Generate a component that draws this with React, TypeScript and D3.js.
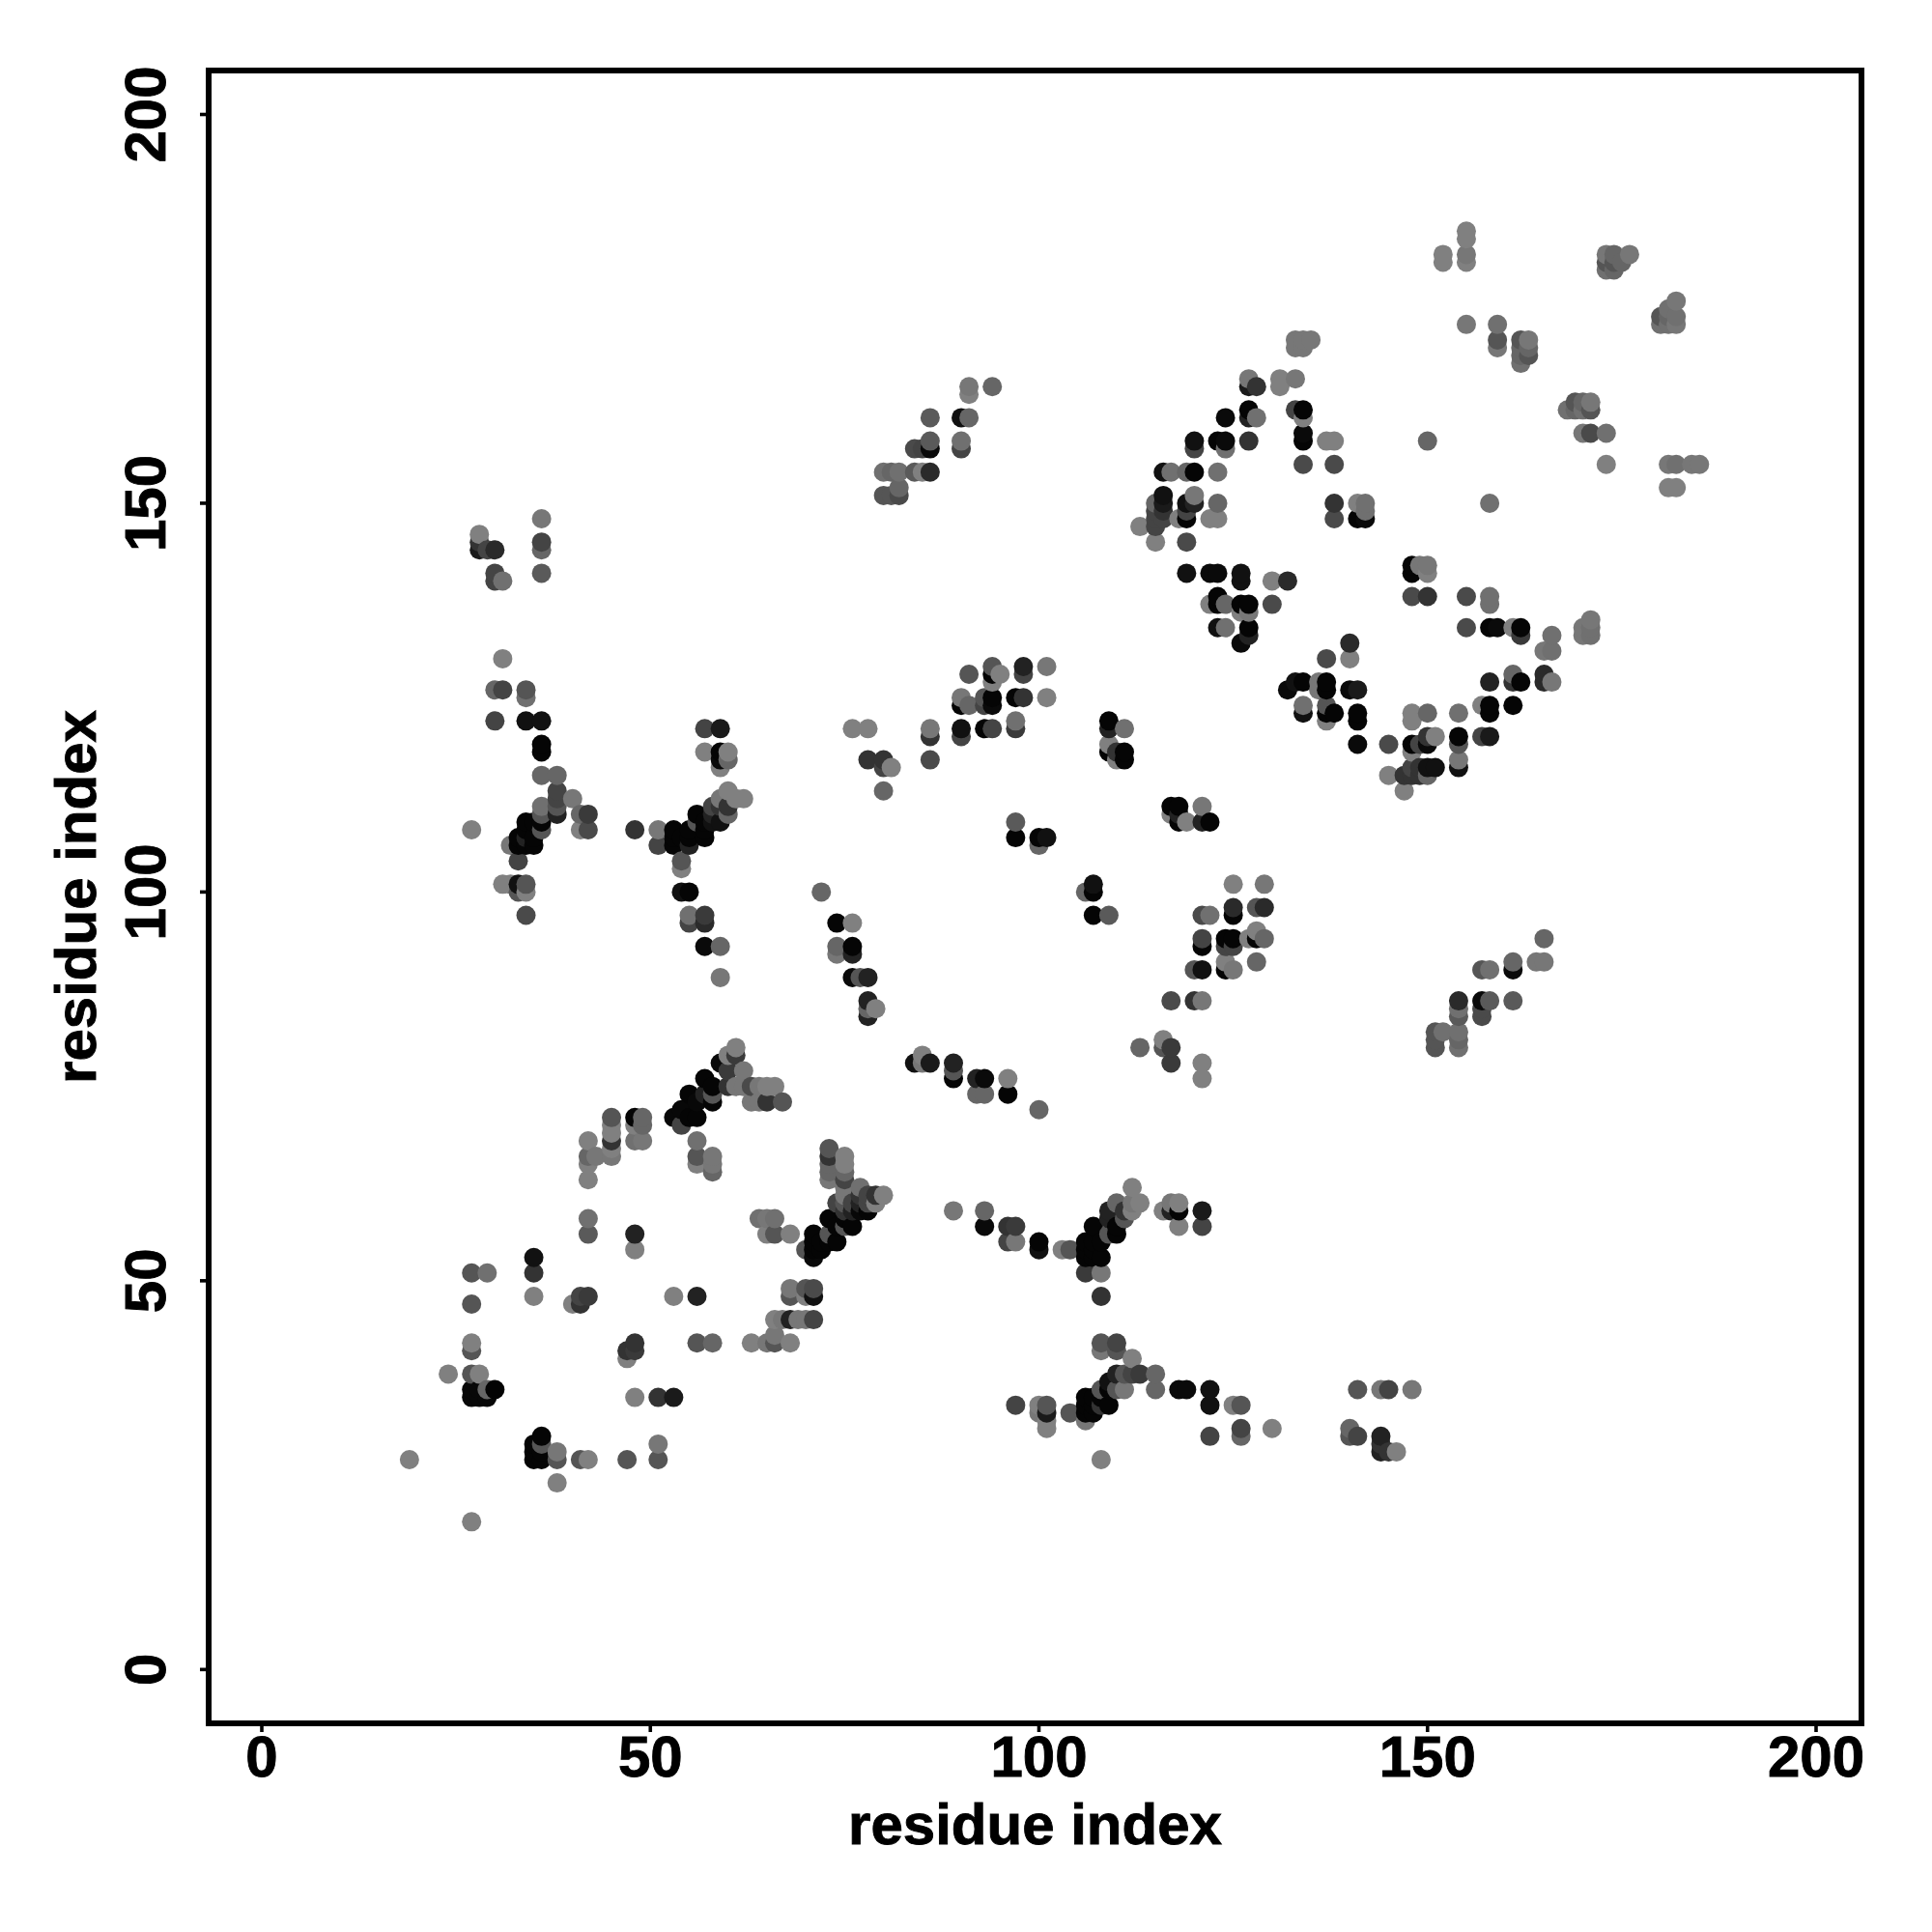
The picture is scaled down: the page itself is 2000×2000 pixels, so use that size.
import React from "react";
import * as d3 from "d3";

// Each contact: [residue i, residue j, grey level of the dot]
type C = [number, number, number];

const xTickValues = [0, 50, 100, 150, 200];
const yTickValues = [0, 50, 100, 150, 200];
const axisTitle = "residue index";

const lowerLeft: C[] = [
  [19,27,128],[24,38,128],[27,19,128],[27,51,85],[29,51,112],[27,47,85],[27,42,128],[27,41,85],[27,38,85],[28,38,128],
  [27,36,8],[27,35,8],[28,36,8],[28,35,8],[29,36,102],[29,35,8],[30,36,3],
  [35,53,17],[35,51,51],[35,48,128],[36,30,5],[35,29,5],[36,29,85],[35,28,5],[36,28,5],[35,27,5],[36,27,5],
  [38,28,119],[38,27,85],[38,24,128],[40,47,128],[41,47,51],[41,48,68],[42,48,58],[41,27,85],[42,27,128],
  [47,27,85],[51,29,119],[51,27,85],[48,35,128],[51,35,51],[53,35,26],[47,41,51],[48,42,51],[48,41,58],[47,40,128],
  [42,58,112],[42,56,90],[48,56,34],[48,54,128],[53,48,128],[56,48,34],
  [42,68,128],[42,66,102],[43,66,119],[42,65,128],[42,63,128],
  [45,71,85],[45,70,128],[45,69,128],[45,68,51],[45,67,128],[45,66,119],
  [48,71,5],[49,71,102],[48,70,128],[49,70,102],[48,68,112],[49,68,119],
  [56,68,112],[56,66,85],[56,65,128],[58,66,119],[58,65,119],[58,64,102],
  [56,42,85],[58,42,102],[63,42,128],[65,42,119],[66,42,85],[66,43,119],[68,42,128],
];

const lowerDiagonal: C[] = [
  [53,71,8],[54,72,8],[54,70,68],[55,71,5],[55,74,5],[56,73,8],[56,71,5],[57,76,5],[57,74,34],[58,75,5],[58,74,85],[58,73,5],
  [59,78,10],[60,79,128],[60,77,58],[60,75,51],[61,80,128],[61,79,58],[61,75,119],[62,77,119],[62,75,119],
  [63,75,74],[63,73,119],[64,75,119],[64,73,119],[65,75,128],[65,73,51],[66,75,128],[67,73,85],
  [64,58,112],[65,58,119],[66,58,112],[65,56,128],[66,56,85],[68,56,128],
  [68,49,119],[68,48,85],[70,49,85],[71,49,74],[70,48,128],[71,48,17],
  [66,45,128],[67,45,119],[68,45,34],[69,45,119],[70,45,119],[71,45,68],
  [70,54,85],[71,56,5],[71,55,5],[71,54,5],[71,53,10],[72,55,5],[72,54,5],[73,56,85],[73,55,5],
  [73,67,85],[73,66,51],[73,65,102],[73,64,102],[73,63,119],[73,58,5],[74,60,68],[74,57,5],[74,55,5],
  [75,66,128],[75,65,128],[75,64,102],[75,63,68],[75,62,119],[75,61,119],[75,60,85],[75,59,51],[75,58,5],[75,57,85],
  [76,60,68],[76,59,34],[76,57,5],[77,62,112],[77,61,51],[77,60,34],[77,59,8],
  [78,61,68],[78,60,68],[78,59,5],[79,61,51],[79,60,128],[80,61,128],
];

const lowerMiddle: C[] = [
  [84,78,17],[85,79,128],[85,78,119],[86,78,26],[89,78,34],[89,77,85],[89,76,5],[92,76,34],[93,76,10],[92,74,102],[93,74,102],
  [96,76,128],[96,74,5],[100,72,102],[113,80,102],[116,81,128],[116,80,85],[117,80,58],[117,78,58],[121,78,128],[121,76,128],
  [89,59,119],[93,59,102],[93,57,10],[96,57,51],[97,57,58],[96,55,68],[97,55,119],[100,55,5],[100,54,17],[103,54,128],[104,54,85],
  [106,55,5],[106,54,5],[106,53,5],[107,57,5],[107,55,5],[107,54,5],[107,53,5],[108,55,5],[108,53,5],
  [109,59,34],[109,58,34],[109,56,85],[110,60,102],[110,57,5],[110,56,5],[111,59,51],[111,58,85],
  [112,62,128],[112,60,119],[112,59,128],[113,60,128],[106,51,58],[108,51,119],[108,48,51],
  [116,59,128],[117,60,119],[117,59,34],[118,60,128],[118,59,5],[118,57,128],[121,59,26],[121,57,68],
];

const lowerBand: C[] = [
  [97,34,68],[100,34,128],[101,34,85],[100,33,119],[101,33,26],[101,32,128],[101,31,128],[104,33,85],
  [106,35,5],[106,34,5],[106,33,5],[106,32,119],[107,35,5],[107,34,5],[107,33,5],[108,42,85],[108,41,119],[108,36,85],[108,35,5],[108,34,51],
  [109,37,17],[109,36,5],[109,34,5],[110,42,68],[110,41,85],[110,38,34],[110,36,85],[111,38,85],[111,36,119],
  [112,40,128],[112,38,68],[113,38,58],[115,38,102],[115,36,102],
  [118,36,10],[119,36,10],[122,36,17],[122,34,17],[125,34,128],[126,34,85],[122,30,68],[126,31,68],[126,30,102],[130,31,128],
  [140,31,102],[140,30,85],[141,30,68],[141,36,85],[144,36,119],[145,36,68],[148,36,119],
  [144,30,34],[144,29,51],[144,28,34],[145,28,51],[146,28,128],[108,27,128],
];

const leftCluster: C[] = [
  [27,108,128],[28,146,128],[28,145,51],[28,144,26],[29,144,68],[30,144,42],[30,141,68],[30,140,68],[31,140,112],
  [36,148,119],[36,145,68],[36,144,102],[36,141,90],[31,130,128],[30,126,102],[31,126,68],[34,126,85],[34,125,112],
  [30,122,68],[34,122,17],[36,122,17],[36,119,5],[36,118,5],[36,115,102],[38,115,102],
  [38,113,68],[38,112,68],[38,111,85],[38,110,34],[40,112,119],[41,110,102],[42,110,58],[41,108,128],[42,108,74],
  [36,111,112],[36,110,85],[36,109,5],[36,108,85],[34,109,5],[35,109,5],[34,108,5],[33,107,5],[34,107,34],[35,107,5],
  [33,106,5],[34,106,5],[35,106,5],[32,106,119],[33,104,68],
  [31,101,128],[32,101,128],[33,101,17],[34,101,85],[33,100,85],[34,100,128],[34,97,74],
];

const centerLeft: C[] = [
  [48,108,51],[51,108,119],[51,106,68],[53,108,5],[53,107,5],[53,106,5],[54,107,5],[55,108,5],[55,107,5],[55,106,34],
  [56,110,5],[56,109,85],[57,109,5],[57,108,5],[57,107,5],[58,111,68],[58,110,34],[58,109,17],
  [59,112,119],[59,111,51],[59,109,17],[60,113,128],[60,111,51],[60,110,102],[61,112,128],[62,112,128],
  [54,104,85],[54,103,128],[54,100,17],[55,100,5],[55,97,112],[55,96,68],[57,97,58],[57,96,42],[57,93,10],[59,93,102],[59,89,119],
  [57,121,68],[59,121,26],[57,118,128],[59,118,5],[59,117,10],[60,118,128],[60,117,102],[59,116,128],
  [72,100,102],[74,96,5],[76,96,128],[74,93,102],[74,92,119],[76,93,5],[76,92,34],[76,89,10],[77,89,85],[78,89,34],
  [78,86,34],[79,85,128],[78,85,102],[78,84,34],
  [76,121,128],[78,121,128],[78,117,51],[80,117,51],[80,116,68],[81,116,128],[80,113,102],
];

const upperLeftStrand: C[] = [
  [80,154,112],[81,154,102],[82,154,112],[84,154,90],[85,154,128],[86,154,42],[82,152,102],[80,151,85],[81,151,85],[82,151,74],
  [84,157,74],[85,157,68],[86,158,90],[86,157,10],[86,161,90],[90,161,17],[91,161,102],[90,158,112],[90,157,68],
  [91,165,119],[91,164,128],[94,165,102],
];

const centerTop: C[] = [
  [86,121,119],[86,120,51],[86,117,74],[90,125,119],[90,124,5],[90,121,17],[90,120,68],[91,128,85],[91,124,102],
  [93,125,85],[93,124,68],[93,121,5],[94,129,85],[94,128,5],[94,127,128],[94,125,5],[94,124,10],[94,121,68],[95,128,128],
  [97,125,5],[97,122,112],[97,121,58],[98,129,34],[98,128,68],[98,125,51],[101,129,119],[101,125,128],
  [109,122,5],[109,121,34],[109,119,128],[109,118,5],[110,118,51],[110,117,128],[111,121,112],[111,118,5],[111,117,5],
  [97,109,90],[97,107,5],[100,107,5],[100,106,102],[101,107,17],
  [117,111,5],[117,110,128],[118,111,5],[118,110,34],[118,109,5],[119,109,128],[121,111,119],[121,109,34],[122,109,5],
  [106,100,102],[107,101,17],[107,100,5],[107,97,5],[109,97,90],
];

const centerRight: C[] = [
  [125,101,128],[129,101,119],[125,98,42],[125,97,5],[128,98,85],[129,98,42],[121,97,74],[122,97,112],
  [121,94,68],[121,93,5],[124,94,5],[125,94,5],[124,93,68],[125,93,68],[127,94,128],[128,95,128],[128,94,5],[129,94,102],[128,91,102],
  [120,90,85],[121,90,17],[124,91,128],[124,90,5],[125,90,119],[117,86,74],[120,86,51],[121,86,119],
];

const lowerRight: C[] = [
  [151,82,85],[151,81,85],[151,80,85],[152,82,112],[154,86,42],[154,85,112],[154,84,90],[154,82,112],[154,81,102],[154,80,112],
  [157,90,85],[158,90,112],[157,86,10],[158,86,90],[157,85,74],[157,84,74],[161,91,102],[161,90,10],[161,86,90],
  [164,91,119],[165,91,119],[165,94,102],
];

const upperRingTop: C[] = [
  [113,147,128],[115,150,102],[115,149,68],[115,148,68],[115,147,68],[115,145,128],
  [116,154,17],[116,151,17],[116,150,26],[116,149,51],[116,148,68],[117,154,112],
  [118,148,128],[119,154,102],[119,150,17],[119,149,68],[119,148,5],[119,145,74],[120,158,17],[120,157,68],[120,154,5],[120,151,119],[120,150,34],
  [122,148,128],[123,158,5],[123,154,112],[123,150,102],[123,148,128],[124,161,10],[124,158,10],[124,157,112],
  [127,166,119],[127,165,26],[127,162,5],[127,161,34],[127,158,51],[128,165,51],[128,161,112],
  [131,166,128],[131,165,128],[133,166,119],[133,171,119],[133,170,119],[134,171,119],[134,170,119],[135,171,119],
  [133,162,68],[134,162,5],[134,161,128],[134,159,10],[134,158,5],[134,155,74],[137,158,128],[138,158,128],[138,155,74],
  [138,150,51],[138,148,74],[141,150,128],[142,150,112],[142,149,112],[141,148,5],[142,148,10],[150,158,102],[158,150,112],
];

const upperRingMiddle: C[] = [
  [119,141,17],[122,141,10],[123,141,10],[126,141,17],[126,140,17],[130,140,128],[132,140,42],
  [123,138,5],[122,137,128],[123,137,5],[124,137,102],[126,137,5],[127,137,5],[126,136,128],[127,136,119],[130,137,74],
  [123,134,17],[124,134,112],[127,134,5],[127,133,34],[126,132,10],
  [148,142,5],[148,141,5],[149,142,119],[150,142,119],[150,141,128],[148,138,74],[150,138,51],[155,138,74],[158,138,112],[158,137,112],
  [155,134,74],[158,134,5],[159,134,10],[161,134,128],[162,134,5],[162,133,58],[166,133,112],[165,131,119],[166,131,112],
  [170,134,119],[171,135,119],[171,134,112],[170,133,119],[171,133,112],
];

const upperRingBottom: C[] = [
  [140,132,42],[137,130,74],[140,130,128],[133,127,17],[134,127,5],[132,126,10],[136,127,119],[136,126,119],[137,127,5],[137,126,5],
  [140,126,10],[141,126,26],[134,124,112],[134,123,17],[137,124,85],[137,123,5],[138,123,5],[137,122,128],[141,123,5],[141,122,5],
  [141,119,10],[145,119,74],[145,115,128],[147,115,51],[147,113,128],[148,123,128],[148,122,128],[148,119,5],[148,118,128],[148,116,68],[148,115,51],
  [149,119,68],[149,116,51],[149,115,51],[150,123,102],[150,120,51],[150,119,10],[150,116,17],[150,115,102],[151,120,128],[151,116,17],
  [154,123,112],[154,120,5],[154,119,85],[154,117,119],[154,116,17],[157,124,128],[157,120,68],[158,127,34],[158,124,5],[158,123,5],[158,120,26],
  [161,128,102],[161,127,51],[162,127,5],[161,124,5],[165,128,42],[165,127,42],[166,127,119],
];

const upperRight: C[] = [
  [152,182,128],[152,181,128],[155,185,128],[155,184,128],[155,182,119],[155,181,128],[155,173,119],
  [159,173,112],[159,171,85],[159,170,119],[162,171,85],[162,170,102],[162,169,102],[162,168,112],[163,171,119],[163,170,102],[163,169,85],
  [173,182,119],[173,181,85],[173,180,112],[174,182,102],[174,181,85],[174,180,102],[175,181,102],[176,182,119],
  [180,174,85],[180,173,112],[181,175,112],[181,174,102],[181,173,112],[182,176,119],[182,174,112],[182,173,119],
  [168,162,112],[169,163,85],[169,162,102],[170,163,102],[170,162,112],[171,163,119],[171,162,85],
  [170,159,119],[171,159,74],[173,159,112],[173,155,128],[181,155,119],[182,155,112],[184,155,119],[185,155,119],[181,152,128],[182,152,128],
];

const contactGroups = [
  lowerLeft, lowerDiagonal, lowerMiddle, lowerBand, leftCluster, centerLeft, upperLeftStrand,
  centerTop, centerRight, lowerRight, upperRingTop, upperRingMiddle, upperRingBottom, upperRight,
];

const W = 2000;
const box = { left: 216, right: 1927, top: 73, bottom: 1784 };
const FONT = "'Liberation Sans', Arial, sans-serif";
const textStyle = { fontFamily: FONT, fontWeight: "bold", fontSize: 60, stroke: "#000", strokeWidth: 0.9 } as const;

export default function App() {
  const x = d3.scaleLinear().domain([0, 200]).range([271, 1880]);
  const y = d3.scaleLinear().domain([0, 200]).range([1728.3, 118.5]);

  // Later residues are painted over earlier ones.
  const contacts = d3.sort(contactGroups.flat(), (a, b) => a[0] - b[0] || a[1] - b[1]);

  return (
    <svg
      width={W}
      height={W}
      viewBox={`0 0 ${W} ${W}`}
      style={{ position: "absolute", left: 0, top: 0, background: "#fff" }}
    >
      {contacts.map(([i, j, g], n) => (
        <circle key={n} cx={x(i)} cy={y(j)} r={10} fill={d3.rgb(g, g, g).formatHex()} />
      ))}

      <rect
        x={box.left}
        y={box.top}
        width={box.right - box.left}
        height={box.bottom - box.top}
        fill="none"
        stroke="#000"
        strokeWidth={6}
      />

      {xTickValues.map((t) => (
        <g key={t}>
          <line x1={x(t)} x2={x(t)} y1={box.bottom} y2={1793} stroke="#000" strokeWidth={3.6} />
          <text x={x(t)} y={1839} textAnchor="middle" style={textStyle}>
            {t}
          </text>
        </g>
      ))}

      {yTickValues.map((t) => (
        <g key={t}>
          <line x1={box.left} x2={207} y1={y(t)} y2={y(t)} stroke="#000" strokeWidth={3.6} />
          <text transform={`translate(171,${y(t)}) rotate(-90)`} textAnchor="middle" style={textStyle}>
            {t}
          </text>
        </g>
      ))}

      <text x={1071.5} y={1909} textAnchor="middle" style={textStyle}>
        {axisTitle}
      </text>
      <text transform={`translate(99,928.5) rotate(-90)`} textAnchor="middle" style={textStyle}>
        {axisTitle}
      </text>
    </svg>
  );
}
